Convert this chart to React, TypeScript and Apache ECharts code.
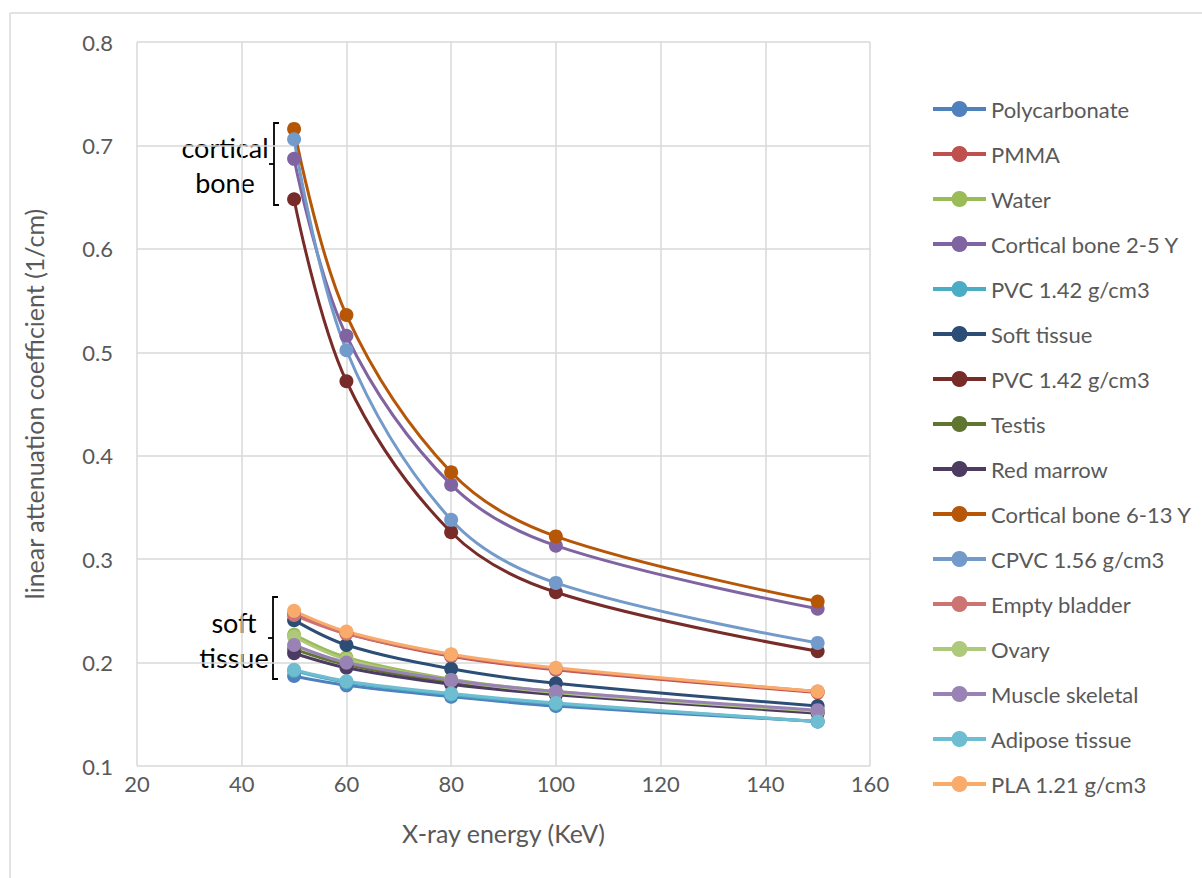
import React, { useEffect, useRef } from "react";
import * as echarts from "echarts";

const energies = [50, 60, 80, 100, 150];

const seriesNames = [
  "Polycarbonate",
  "PMMA",
  "Water",
  "Cortical bone 2-5 Y",
  "PVC 1.42 g/cm3",
  "Soft tissue",
  "PVC 1.42 g/cm3 ",
  "Testis",
  "Red marrow",
  "Cortical bone 6-13 Y",
  "CPVC 1.56 g/cm3",
  "Empty bladder",
  "Ovary",
  "Muscle skeletal",
  "Adipose tissue",
  "PLA 1.21 g/cm3",
];

const seriesColors = [
  "#4F81BD",
  "#C0504D",
  "#9BBB59",
  "#8064A2",
  "#4BACC6",
  "#2C4D75",
  "#772C2A",
  "#5F7530",
  "#4D3B62",
  "#B65708",
  "#729ACA",
  "#CD7371",
  "#AFC97A",
  "#9983B5",
  "#6FBDD1",
  "#F9AB6B",
];

const polycarbonate = [0.187, 0.178, 0.167, 0.158, 0.143];
const pmma = [0.247, 0.228, 0.206, 0.193, 0.171];
const water = [0.227, 0.205, 0.184, 0.172, 0.153];
const corticalBone25 = [0.687, 0.516, 0.372, 0.313, 0.252];
const pvcA = [0.192, 0.181, 0.169, 0.16, 0.143];
const softTissue = [0.241, 0.217, 0.194, 0.18, 0.158];
const pvcB = [0.648, 0.472, 0.326, 0.268, 0.211];
const testis = [0.213, 0.198, 0.181, 0.171, 0.153];
const redMarrow = [0.209, 0.195, 0.179, 0.169, 0.151];
const corticalBone613 = [0.716, 0.536, 0.384, 0.322, 0.259];
const cpvc = [0.706, 0.502, 0.338, 0.277, 0.219];
const emptyBladder = [0.246, 0.228, 0.207, 0.194, 0.172];
const ovary = [0.225, 0.203, 0.183, 0.171, 0.153];
const muscleSkeletal = [0.217, 0.2, 0.183, 0.172, 0.154];
const adipose = [0.193, 0.182, 0.17, 0.161, 0.143];
const pla = [0.25, 0.23, 0.208, 0.195, 0.172];

const seriesValues = [
  polycarbonate,
  pmma,
  water,
  corticalBone25,
  pvcA,
  softTissue,
  pvcB,
  testis,
  redMarrow,
  corticalBone613,
  cpvc,
  emptyBladder,
  ovary,
  muscleSkeletal,
  adipose,
  pla,
];

const FONT = "Lato, 'Open Sans', sans-serif";
const TEXT = "#595959";

export default function App() {
  const ref = useRef<HTMLDivElement>(null);

  useEffect(() => {
    if (!ref.current) return;
    const chart = echarts.init(ref.current, null, { renderer: "svg" });

    const series = seriesNames.map((name, i) => ({
      name,
      type: "line",
      data: energies.map((e, j) => [e, seriesValues[i][j]]),
      smooth: 0.35,
      symbol: "circle",
      symbolSize: 14,
      lineStyle: { width: 3, color: seriesColors[i] },
      itemStyle: { color: seriesColors[i] },
      emphasis: { disabled: true },
    }));

    const bracket = (x: number, y1: number, y2: number) => {
      const mid = (y1 + y2) / 2;
      return [
        {
          type: "polyline",
          shape: {
            points: [
              [x + 5, y1],
              [x, y1],
              [x, y2],
              [x + 5, y2],
            ],
          },
          style: { stroke: "#000", lineWidth: 1.8, fill: null },
        },
        {
          type: "line",
          shape: { x1: x - 5, y1: mid, x2: x, y2: mid },
          style: { stroke: "#000", lineWidth: 1.8 },
        },
      ];
    };

    chart.setOption({
      animation: false,
      grid: { left: 137, right: 332, top: 42, bottom: 112, containLabel: false },
      xAxis: {
        type: "value",
        min: 20,
        max: 160,
        interval: 20,
        name: "X-ray energy (KeV)",
        nameLocation: "middle",
        nameGap: 54,
        nameTextStyle: { fontFamily: FONT, fontSize: 25, color: TEXT },
        axisLine: { show: false },
        axisTick: { show: false },
        axisLabel: { fontFamily: FONT, fontSize: 22, color: TEXT, margin: 6 },
        splitLine: { show: true, lineStyle: { color: "#D9D9D9", width: 1.5 } },
      },
      yAxis: {
        type: "value",
        min: 0.1,
        max: 0.8,
        interval: 0.1,
        name: "linear attenuation coefficient (1/cm)",
        nameLocation: "middle",
        nameGap: 91,
        nameTextStyle: { fontFamily: FONT, fontSize: 25, color: TEXT },
        axisLine: { show: false },
        axisTick: { show: false },
        axisLabel: {
          fontFamily: FONT,
          fontSize: 22,
          color: TEXT,
          margin: 24,
          formatter: (v: number) => v.toFixed(1),
        },
        splitLine: { show: true, lineStyle: { color: "#D9D9D9", width: 1.5 } },
      },
      legend: {
        orient: "vertical",
        left: 926,
        top: 93,
        itemWidth: 53,
        itemHeight: 20,
        itemGap: 23,
        lineStyle: { width: 4 },
        textStyle: { fontFamily: FONT, fontSize: 22, lineHeight: 20, color: TEXT },
        data: seriesNames,
        selectedMode: false,
      },
      series,
      graphic: [
        {
          type: "line",
          shape: { x1: 10, y1: 13, x2: 1202, y2: 13 },
          style: { stroke: "#D9D9D9", lineWidth: 1.5 },
        },
        {
          type: "line",
          shape: { x1: 10, y1: 13, x2: 10, y2: 878 },
          style: { stroke: "#D9D9D9", lineWidth: 1.5 },
        },
        {
          type: "text",
          x: 225,
          y: 165,
          style: {
            text: "cortical\nbone",
            font: `27px ${FONT}`,
            fill: "#000",
            textAlign: "center",
            textVerticalAlign: "middle",
            lineHeight: 35,
          },
        },
        {
          type: "text",
          x: 234,
          y: 640,
          style: {
            text: "soft\ntissue",
            font: `27px ${FONT}`,
            fill: "#000",
            textAlign: "center",
            textVerticalAlign: "middle",
            lineHeight: 35,
          },
        },
        ...bracket(274, 123, 205),
        ...bracket(273, 597, 679),
      ],
    });

    return () => chart.dispose();
  }, []);

  return (
    <div
      ref={ref}
      style={{ position: "absolute", left: 0, top: 0, width: 1202, height: 878, background: "#fff" }}
    />
  );
}
